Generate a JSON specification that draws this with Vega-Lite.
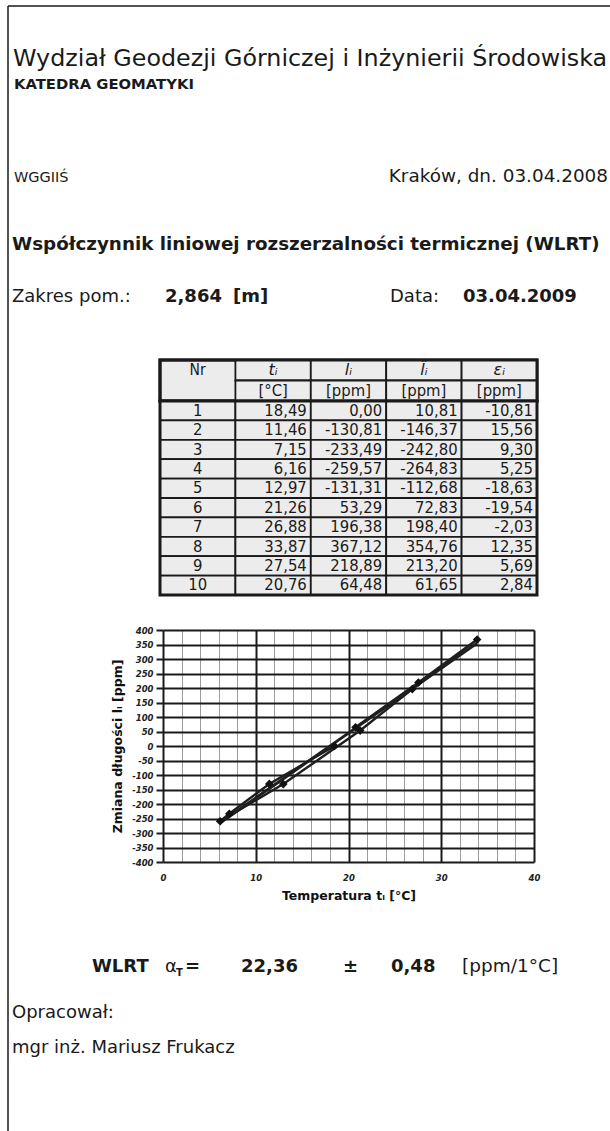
{
  "$schema": "https://vega.github.io/schema/vega-lite/v6.json",
  "background": "white",
  "padding": 0,
  "spacing": 0,
  "bounds": "flush",
  "config": {
    "view": {"stroke": null},
    "concat": {"spacing": 0},
    "font": "DejaVu Sans",
    "locale": {"number": {"decimal": ",", "thousands": " ", "grouping": [3], "currency": ["", " zł"], "minus": "-"}}
  },
  "datasets": {
    "pomiary": [
      {"Nr": 1, "t": 18.49, "l": 0.00, "lhat": 10.81, "eps": -10.81},
      {"Nr": 2, "t": 11.46, "l": -130.81, "lhat": -146.37, "eps": 15.56},
      {"Nr": 3, "t": 7.15, "l": -233.49, "lhat": -242.80, "eps": 9.30},
      {"Nr": 4, "t": 6.16, "l": -259.57, "lhat": -264.83, "eps": 5.25},
      {"Nr": 5, "t": 12.97, "l": -131.31, "lhat": -112.68, "eps": -18.63},
      {"Nr": 6, "t": 21.26, "l": 53.29, "lhat": 72.83, "eps": -19.54},
      {"Nr": 7, "t": 26.88, "l": 196.38, "lhat": 198.40, "eps": -2.03},
      {"Nr": 8, "t": 33.87, "l": 367.12, "lhat": 354.76, "eps": 12.35},
      {"Nr": 9, "t": 27.54, "l": 218.89, "lhat": 213.20, "eps": 5.69},
      {"Nr": 10, "t": 20.76, "l": 64.48, "lhat": 61.65, "eps": 2.84}
    ]
  },
  "vconcat": [
    {
      "width": 610, "height": 340,
      "layer": [
        {"data": {"values": [{}]}, "mark": {"type": "rule", "color": "#1a1a1a", "strokeWidth": 1.5}, "encoding": {"x": {"value": 8}, "y": {"value": 6}, "y2": {"value": "height"}}},
        {"data": {"values": [{}]}, "mark": {"type": "rule", "color": "#1a1a1a", "strokeWidth": 1.5}, "encoding": {"x": {"value": 8}, "x2": {"value": "width"}, "y": {"value": 6}}},
        {"data": {"values": [{"text": "Wydział Geodezji Górniczej i Inżynierii Środowiska"}]}, "mark": {"type": "text", "align": "left", "baseline": "alphabetic", "fontSize": 23.8, "color": "#1a1a1a"}, "encoding": {"text": {"field": "text"}, "x": {"value": 13}, "y": {"value": 66}}},
        {"data": {"values": [{"text": "KATEDRA GEOMATYKI"}]}, "mark": {"type": "text", "align": "left", "baseline": "alphabetic", "fontSize": 14.8, "fontWeight": "bold", "color": "#1a1a1a"}, "encoding": {"text": {"field": "text"}, "x": {"value": 14}, "y": {"value": 88.5}}},
        {"data": {"values": [{"text": "WGGIIŚ"}]}, "mark": {"type": "text", "align": "left", "baseline": "alphabetic", "fontSize": 14.5, "color": "#1a1a1a"}, "encoding": {"text": {"field": "text"}, "x": {"value": 14}, "y": {"value": 182}}},
        {"data": {"values": [{"text": "Kraków, dn. 03.04.2008"}]}, "mark": {"type": "text", "align": "right", "baseline": "alphabetic", "fontSize": 18.4, "color": "#1a1a1a"}, "encoding": {"text": {"field": "text"}, "x": {"value": 608}, "y": {"value": 182}}},
        {"data": {"values": [{"text": "Współczynnik liniowej rozszerzalności termicznej (WLRT)"}]}, "mark": {"type": "text", "align": "left", "baseline": "alphabetic", "fontSize": 18.3, "fontWeight": "bold", "color": "#1a1a1a"}, "encoding": {"text": {"field": "text"}, "x": {"value": 12}, "y": {"value": 250}}},
        {"data": {"values": [{"text": "Zakres pom.:"}]}, "mark": {"type": "text", "align": "left", "baseline": "alphabetic", "fontSize": 18, "color": "#1a1a1a"}, "encoding": {"text": {"field": "text"}, "x": {"value": 12}, "y": {"value": 302}}},
        {"data": {"values": [{"text": "2,864"}]}, "mark": {"type": "text", "align": "left", "baseline": "alphabetic", "fontSize": 18, "fontWeight": "bold", "color": "#1a1a1a"}, "encoding": {"text": {"field": "text"}, "x": {"value": 165}, "y": {"value": 302}}},
        {"data": {"values": [{"text": "[m]"}]}, "mark": {"type": "text", "align": "left", "baseline": "alphabetic", "fontSize": 18, "fontWeight": "bold", "color": "#1a1a1a"}, "encoding": {"text": {"field": "text"}, "x": {"value": 233}, "y": {"value": 302}}},
        {"data": {"values": [{"text": "Data:"}]}, "mark": {"type": "text", "align": "left", "baseline": "alphabetic", "fontSize": 18, "color": "#1a1a1a"}, "encoding": {"text": {"field": "text"}, "x": {"value": 390}, "y": {"value": 302}}},
        {"data": {"values": [{"text": "03.04.2009"}]}, "mark": {"type": "text", "align": "left", "baseline": "alphabetic", "fontSize": 18, "fontWeight": "bold", "color": "#1a1a1a"}, "encoding": {"text": {"field": "text"}, "x": {"value": 463}, "y": {"value": 302}}}
      ]
    },
    {
      "width": 610, "height": 61,
      "layer": [
        {"data": {"values": [{}]}, "mark": {"type": "rule", "color": "#1a1a1a", "strokeWidth": 1.5}, "encoding": {"x": {"value": 8}, "y": {"value": 0}, "y2": {"value": "height"}}},
        {"data": {"values": [{}]}, "mark": {"type": "rect", "fill": "#ececec", "stroke": "#1a1a1a", "strokeWidth": 3}, "encoding": {"x": {"value": 160}, "x2": {"value": 537}, "y": {"value": 20}, "y2": {"value": 61}}},
        {
          "data": {"values": [
            {"key": "t", "row": "sym"}, {"key": "l", "row": "sym"}, {"key": "lhat", "row": "sym"}, {"key": "eps", "row": "sym"},
            {"key": "t", "row": "unit"}, {"key": "l", "row": "unit"}, {"key": "lhat", "row": "unit"}, {"key": "eps", "row": "unit"}
          ]},
          "mark": {"type": "rect", "fill": "#ececec", "stroke": "#1a1a1a", "strokeWidth": 1.8},
          "encoding": {
            "x": {"field": "key", "type": "nominal", "scale": {"type": "band", "domain": ["Nr", "t", "l", "lhat", "eps"], "range": [160, 537], "paddingInner": 0, "paddingOuter": 0}, "axis": null},
            "y": {"field": "row", "type": "nominal", "scale": {"type": "band", "domain": ["sym", "unit"], "range": [20, 61], "paddingInner": 0, "paddingOuter": 0}, "axis": null}
          }
        },
        {"data": {"values": [{}]}, "mark": {"type": "rect", "fillOpacity": 0, "stroke": "#1a1a1a", "strokeWidth": 3}, "encoding": {"x": {"value": 160}, "x2": {"value": 537}, "y": {"value": 20}, "y2": {"value": 61}}},
        {
          "data": {"values": [{"key": "Nr", "row": "sym", "label": "Nr"}]},
          "mark": {"type": "text", "fontSize": 15.5, "baseline": "middle", "color": "#1a1a1a", "font": "DejaVu Sans Condensed, Liberation Sans"},
          "encoding": {
            "x": {"field": "key", "type": "nominal", "scale": {"type": "band", "domain": ["Nr", "t", "l", "lhat", "eps"], "range": [160, 537], "paddingInner": 0, "paddingOuter": 0}, "axis": null},
            "y": {"field": "row", "type": "nominal", "scale": {"type": "band", "domain": ["sym", "unit"], "range": [20, 61], "paddingInner": 0, "paddingOuter": 0}, "axis": null},
            "text": {"field": "label"}
          }
        },
        {
          "data": {"values": [
            {"key": "t", "row": "sym", "label": "tᵢ"}, {"key": "l", "row": "sym", "label": "lᵢ"},
            {"key": "lhat", "row": "sym", "label": "l̂ᵢ"}, {"key": "eps", "row": "sym", "label": "εᵢ"}
          ]},
          "mark": {"type": "text", "fontSize": 16, "fontStyle": "italic", "baseline": "middle", "color": "#1a1a1a"},
          "encoding": {
            "x": {"field": "key", "type": "nominal", "scale": {"type": "band", "domain": ["Nr", "t", "l", "lhat", "eps"], "range": [160, 537], "paddingInner": 0, "paddingOuter": 0}, "axis": null},
            "y": {"field": "row", "type": "nominal", "scale": {"type": "band", "domain": ["sym", "unit"], "range": [20, 61], "paddingInner": 0, "paddingOuter": 0}, "axis": null},
            "text": {"field": "label"}
          }
        },
        {
          "data": {"values": [
            {"key": "t", "row": "unit", "label": "[°C]"}, {"key": "l", "row": "unit", "label": "[ppm]"},
            {"key": "lhat", "row": "unit", "label": "[ppm]"}, {"key": "eps", "row": "unit", "label": "[ppm]"}
          ]},
          "mark": {"type": "text", "fontSize": 16.5, "baseline": "middle", "color": "#1a1a1a", "font": "DejaVu Sans Condensed, Liberation Sans"},
          "encoding": {
            "x": {"field": "key", "type": "nominal", "scale": {"type": "band", "domain": ["Nr", "t", "l", "lhat", "eps"], "range": [160, 537], "paddingInner": 0, "paddingOuter": 0}, "axis": null},
            "y": {"field": "row", "type": "nominal", "scale": {"type": "band", "domain": ["sym", "unit"], "range": [20, 61], "paddingInner": 0, "paddingOuter": 0}, "axis": null},
            "text": {"field": "label"}
          }
        }
      ]
    },
    {
      "width": 610, "height": 229,
      "layer": [
        {"data": {"values": [{}]}, "mark": {"type": "rule", "color": "#1a1a1a", "strokeWidth": 1.5}, "encoding": {"x": {"value": 8}, "y": {"value": 0}, "y2": {"value": "height"}}},
        {
          "data": {"name": "pomiary"},
          "transform": [{"fold": ["Nr", "t", "l", "lhat", "eps"], "as": ["key", "value"]}],
          "encoding": {
            "x": {"field": "key", "type": "nominal", "scale": {"type": "band", "domain": ["Nr", "t", "l", "lhat", "eps"], "range": [160, 537], "paddingInner": 0, "paddingOuter": 0}, "axis": null},
            "y": {"field": "Nr", "type": "ordinal", "scale": {"type": "band", "range": [0, 194], "paddingInner": 0, "paddingOuter": 0}, "axis": null}
          },
          "layer": [
            {"mark": {"type": "rect", "fill": "#ececec", "stroke": "#1a1a1a", "strokeWidth": 1.8}},
            {
              "transform": [{"filter": "datum.key === 'Nr'"}],
              "mark": {"type": "text", "fontSize": 16.5, "baseline": "middle", "color": "#1a1a1a", "font": "DejaVu Sans Condensed, Liberation Sans"},
              "encoding": {"text": {"field": "Nr", "type": "quantitative", "format": "d"}}
            },
            {
              "transform": [{"filter": "datum.key !== 'Nr'"}],
              "mark": {"type": "text", "align": "right", "dx": -4, "fontSize": 16.5, "baseline": "middle", "color": "#1a1a1a", "font": "DejaVu Sans Condensed, Liberation Sans"},
              "encoding": {
                "x": {"field": "key", "type": "nominal", "bandPosition": 1, "scale": {"type": "band", "domain": ["Nr", "t", "l", "lhat", "eps"], "range": [160, 537], "paddingInner": 0, "paddingOuter": 0}, "axis": null},
                "text": {"field": "value", "type": "quantitative", "format": ".2f"}
              }
            }
          ]
        },
        {"data": {"values": [{}]}, "mark": {"type": "rect", "fillOpacity": 0, "stroke": "#1a1a1a", "strokeWidth": 3}, "encoding": {"x": {"value": 160}, "x2": {"value": 537}, "y": {"value": 0}, "y2": {"value": 194}}}
      ]
    },
    {
      "width": 610, "height": 232,
      "layer": [
        {"data": {"values": [{}]}, "mark": {"type": "rule", "color": "#1a1a1a", "strokeWidth": 1.5}, "encoding": {"x": {"value": 8}, "y": {"value": 0}, "y2": {"value": "height"}}},
        {
          "data": {"name": "pomiary"},
          "encoding": {
            "x": {
              "field": "t", "type": "quantitative",
              "scale": {"domain": [0, 40], "range": [163, 534], "nice": false},
              "axis": {
                "values": [0, 2, 4, 6, 8, 10, 12, 14, 16, 18, 20, 22, 24, 26, 28, 30, 32, 34, 36, 38, 40],
                "grid": true,
                "gridColor": {"condition": {"test": "datum.value % 10 === 0", "value": "#1a1a1a"}, "value": "#9c9c9c"},
                "gridWidth": {"condition": {"test": "datum.value % 10 === 0", "value": 2}, "value": 1},
                "gridOpacity": 1,
                "labelExpr": "datum.value % 10 === 0 ? datum.label : ''",
                "ticks": false, "domain": false,
                "labelFont": "DejaVu Sans", "labelFontSize": 8.5, "labelFontStyle": "italic", "labelFontWeight": "bold", "labelColor": "#222222",
                "labelPadding": 11, "labelFlush": false, "labelOverlap": false,
                "title": "Temperatura tᵢ [°C]",
                "titleFont": "DejaVu Sans", "titleFontSize": 12.5, "titleFontWeight": "bold", "titleColor": "#111111", "titlePadding": 8
              }
            },
            "y": {
              "field": "l", "type": "quantitative",
              "scale": {"domain": [-400, 400], "nice": false},
              "axis": {
                "offset": -163,
                "values": [-400, -350, -300, -250, -200, -150, -100, -50, 0, 50, 100, 150, 200, 250, 300, 350, 400],
                "grid": true, "gridColor": "#1a1a1a", "gridWidth": 2, "gridOpacity": 1,
                "ticks": true, "tickSize": 7, "tickWidth": 2, "tickColor": "#1a1a1a",
                "domain": false,
                "labelFont": "DejaVu Sans", "labelFontSize": 8.5, "labelFontStyle": "italic", "labelFontWeight": "bold", "labelColor": "#222222",
                "labelPadding": 3, "labelFlush": false, "labelOverlap": false,
                "title": "Zmiana długości lᵢ [ppm]",
                "titleFont": "DejaVu Sans", "titleFontSize": 12.5, "titleFontWeight": "bold", "titleColor": "#111111", "titlePadding": 7
              }
            }
          },
          "layer": [
            {
              "transform": [{"aggregate": [{"op": "min", "field": "Nr", "as": "n"}]}],
              "mark": {"type": "rect", "fill": "#000000", "fillOpacity": 0.065, "stroke": "#1a1a1a", "strokeWidth": 2.5, "strokeOpacity": 1},
              "encoding": {
                "x": {"datum": 0},
                "x2": {"datum": 40},
                "y": {"datum": -400},
                "y2": {"datum": 400}
              }
            },
            {
              "mark": {"type": "line", "color": "#1f1f1f", "strokeWidth": 2.4},
              "encoding": {"order": {"field": "Nr", "type": "quantitative"}}
            },
            {
              "mark": {"type": "line", "color": "#1f1f1f", "strokeWidth": 3},
              "encoding": {
                "y": {"field": "lhat", "type": "quantitative", "scale": {"domain": [-400, 400], "nice": false},
                  "axis": {
                    "offset": -163,
                    "values": [-400, -350, -300, -250, -200, -150, -100, -50, 0, 50, 100, 150, 200, 250, 300, 350, 400],
                    "grid": true, "gridColor": "#1a1a1a", "gridWidth": 2, "gridOpacity": 1,
                    "ticks": true, "tickSize": 7, "tickWidth": 2, "tickColor": "#1a1a1a",
                    "domain": false,
                    "labelFont": "DejaVu Sans", "labelFontSize": 8.5, "labelFontStyle": "italic", "labelFontWeight": "bold", "labelColor": "#222222",
                    "labelPadding": 3, "labelFlush": false, "labelOverlap": false,
                    "title": "Zmiana długości lᵢ [ppm]",
                    "titleFont": "DejaVu Sans", "titleFontSize": 12.5, "titleFontWeight": "bold", "titleColor": "#111111", "titlePadding": 7
                  }
                },
                "order": {"field": "t", "type": "quantitative"}
              }
            },
            {
              "mark": {"type": "point", "shape": "diamond", "filled": true, "color": "#111111", "size": 75, "opacity": 1}
            }
          ]
        }
      ]
    },
    {
      "width": 610, "height": 269,
      "layer": [
        {"data": {"values": [{}]}, "mark": {"type": "rule", "color": "#1a1a1a", "strokeWidth": 1.5}, "encoding": {"x": {"value": 8}, "y": {"value": 0}, "y2": {"value": "height"}}},
        {"data": {"values": [{"text": "WLRT"}]}, "mark": {"type": "text", "align": "left", "baseline": "alphabetic", "fontSize": 18, "fontWeight": "bold", "color": "#1a1a1a"}, "encoding": {"text": {"field": "text"}, "x": {"value": 92}, "y": {"value": 110}}},
        {"data": {"values": [{"text": "α"}]}, "mark": {"type": "text", "align": "left", "baseline": "alphabetic", "fontSize": 18, "color": "#1a1a1a"}, "encoding": {"text": {"field": "text"}, "x": {"value": 165}, "y": {"value": 110}}},
        {"data": {"values": [{"text": "T"}]}, "mark": {"type": "text", "align": "left", "baseline": "alphabetic", "fontSize": 10, "fontWeight": "bold", "color": "#1a1a1a"}, "encoding": {"text": {"field": "text"}, "x": {"value": 176}, "y": {"value": 114}}},
        {"data": {"values": [{"text": "="}]}, "mark": {"type": "text", "align": "left", "baseline": "alphabetic", "fontSize": 18, "fontWeight": "bold", "color": "#1a1a1a"}, "encoding": {"text": {"field": "text"}, "x": {"value": 185}, "y": {"value": 110}}},
        {"data": {"values": [{"text": "22,36"}]}, "mark": {"type": "text", "align": "left", "baseline": "alphabetic", "fontSize": 18, "fontWeight": "bold", "color": "#1a1a1a"}, "encoding": {"text": {"field": "text"}, "x": {"value": 241}, "y": {"value": 110}}},
        {"data": {"values": [{"text": "±"}]}, "mark": {"type": "text", "align": "left", "baseline": "alphabetic", "fontSize": 18, "fontWeight": "bold", "color": "#1a1a1a"}, "encoding": {"text": {"field": "text"}, "x": {"value": 343}, "y": {"value": 110}}},
        {"data": {"values": [{"text": "0,48"}]}, "mark": {"type": "text", "align": "left", "baseline": "alphabetic", "fontSize": 18, "fontWeight": "bold", "color": "#1a1a1a"}, "encoding": {"text": {"field": "text"}, "x": {"value": 391}, "y": {"value": 110}}},
        {"data": {"values": [{"text": "[ppm/1°C]"}]}, "mark": {"type": "text", "align": "left", "baseline": "alphabetic", "fontSize": 18.5, "color": "#1a1a1a"}, "encoding": {"text": {"field": "text"}, "x": {"value": 462}, "y": {"value": 110}}},
        {"data": {"values": [{"text": "Opracował:"}]}, "mark": {"type": "text", "align": "left", "baseline": "alphabetic", "fontSize": 18, "color": "#1a1a1a"}, "encoding": {"text": {"field": "text"}, "x": {"value": 12}, "y": {"value": 156}}},
        {"data": {"values": [{"text": "mgr inż. Mariusz Frukacz"}]}, "mark": {"type": "text", "align": "left", "baseline": "alphabetic", "fontSize": 18, "color": "#1a1a1a"}, "encoding": {"text": {"field": "text"}, "x": {"value": 12}, "y": {"value": 191}}}
      ]
    }
  ]
}
